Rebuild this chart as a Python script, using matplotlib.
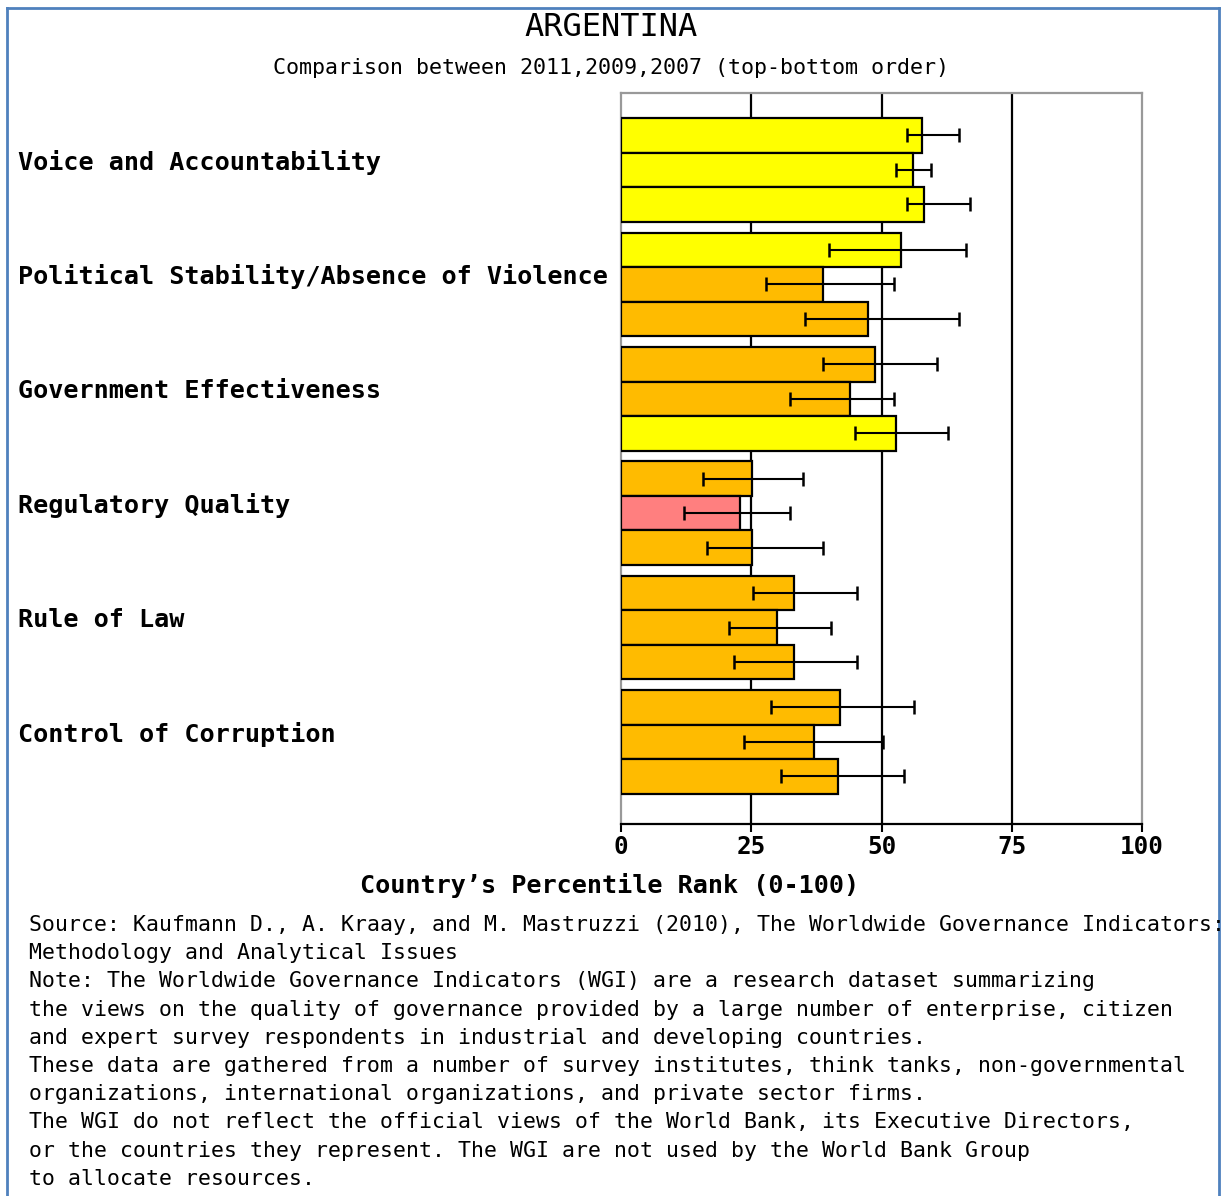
import matplotlib
matplotlib.use("Agg")
import matplotlib.pyplot as plt
import matplotlib.transforms as mtransforms
from matplotlib.lines import Line2D
import numpy as np

# ---------------- data ----------------
title = "ARGENTINA"
subtitle = "Comparison between 2011,2009,2007 (top-bottom order)"
indicators = ["Voice and Accountability",
              "Political Stability/Absence of Violence",
              "Government Effectiveness",
              "Regulatory Quality",
              "Rule of Law",
              "Control of Corruption"]
years = ["2011", "2009", "2007"]

# percentile rank per indicator, order: 2011, 2009, 2007
rank = [[57.8, 56.1, 58.1],
        [53.7, 38.7, 47.4],
        [48.7, 44.0, 52.8],
        [25.1, 22.8, 25.1],
        [33.3, 29.9, 33.3],
        [42.0, 37.0, 41.6]]
# lower / upper bounds of the 90% confidence interval
lower = [[54.8, 52.8, 54.8],
         [39.9, 27.8, 35.3],
         [38.7, 32.4, 44.9],
         [15.8, 12.1, 16.6],
         [25.4, 20.7, 21.6],
         [28.7, 23.7, 30.8]]
upper = [[64.9, 59.5, 66.9],
         [66.2, 52.4, 64.9],
         [60.7, 52.4, 62.8],
         [34.9, 32.4, 38.7],
         [45.3, 40.3, 45.3],
         [56.2, 50.3, 54.4]]

xticks = [0, 25, 50, 75, 100]
xlabel = "Country\u2019s Percentile Rank (0-100)"
footer = [
    "Source: Kaufmann D., A. Kraay, and M. Mastruzzi (2010), The Worldwide Governance Indicators:",
    "Methodology and Analytical Issues",
    "Note: The Worldwide Governance Indicators (WGI) are a research dataset summarizing",
    "the views on the quality of governance provided by a large number of enterprise, citizen",
    "and expert survey respondents in industrial and developing countries.",
    "These data are gathered from a number of survey institutes, think tanks, non-governmental",
    "organizations, international organizations, and private sector firms.",
    "The WGI do not reflect the official views of the World Bank, its Executive Directors,",
    "or the countries they represent. The WGI are not used by the World Bank Group",
    "to allocate resources.",
]

# ---------------- styling ----------------
def color_for(v):
    if v < 10:
        return "#FF0000"
    if v < 25:
        return "#FF7F7F"
    if v < 50:
        return "#FFBB00"
    if v < 75:
        return "#FFFF00"
    return "#00CC00"

MONO = "DejaVu Sans Mono"
W, H = 1226, 1196
fig = plt.figure(figsize=(W / 100, H / 100), dpi=100)
fig.patch.set_facecolor("white")

# axes placement (pixel-based)
ax_l, ax_r, ax_t, ax_b = 621, 1142, 93, 824
ax = fig.add_axes([ax_l / W, 1 - ax_b / H, (ax_r - ax_l) / W, (ax_b - ax_t) / H])

bar_h = 0.3016
rank_a = np.array(rank)
low_a = np.array(lower)
up_a = np.array(upper)
for i in range(len(indicators)):
    for k in range(len(years)):
        y = i + (k - 1) * bar_h
        v = rank_a[i, k]
        ax.barh(y, v, height=bar_h, color=color_for(v), edgecolor="black",
                linewidth=1.6, zorder=3)
        ax.errorbar(v, y, xerr=[[v - low_a[i, k]], [up_a[i, k] - v]], fmt="none",
                    ecolor="black", elinewidth=1.5, capsize=5, capthick=1.8, zorder=4)

for g in [25, 50, 75]:
    ax.axvline(g, color="black", linewidth=1.6, zorder=1)

ax.set_xlim(0, 100)
ax.set_ylim(5.717, -0.673)
ax.set_yticks([])
ax.set_xticks(xticks)
ax.set_xticklabels([str(t) for t in xticks], fontfamily=MONO, fontweight="bold",
                   fontsize=17.5)
ax.tick_params(axis="x", length=6, width=1.5, color="black", pad=2, direction="out")
for s in ["left", "right", "top"]:
    ax.spines[s].set_color("#999999")
    ax.spines[s].set_linewidth(1.6)
ax.spines["bottom"].set_color("black")
ax.spines["bottom"].set_linewidth(1.6)

# category labels
trans = mtransforms.blended_transform_factory(fig.transFigure, ax.transData)
for i, name in enumerate(indicators):
    ax.text(18 / W, i - 0.065, name, transform=trans, ha="left", va="center",
            fontfamily=MONO, fontweight="bold", fontsize=18.1)

# titles
fig.text(611 / W, 1 - 27 / H, title, ha="center", va="center",
         fontfamily=MONO, fontsize=23)
fig.text(611 / W, 1 - 68 / H, subtitle, ha="center", va="center",
         fontfamily=MONO, fontsize=15.6)
fig.text(610 / W, 1 - 886 / H, xlabel, ha="center", va="center",
         fontfamily=MONO, fontweight="bold", fontsize=18.1)

# footer
for j, line in enumerate(footer):
    fig.text(29 / W, 1 - (925 + 28.2 * j) / H, line, ha="left", va="center",
             fontfamily=MONO, fontsize=15.45)

# blue frame (left, top, right)
bc = "#4F81BD"
fig.add_artist(Line2D([7 / W, 7 / W], [0, 1 - 8 / H], transform=fig.transFigure,
                      color=bc, linewidth=2))
fig.add_artist(Line2D([7 / W, 1219 / W], [1 - 8 / H, 1 - 8 / H], transform=fig.transFigure,
                      color=bc, linewidth=2))
fig.add_artist(Line2D([1219 / W, 1219 / W], [0, 1 - 8 / H], transform=fig.transFigure,
                      color=bc, linewidth=2))

fig.savefig("out.png", dpi=100, facecolor="white")
